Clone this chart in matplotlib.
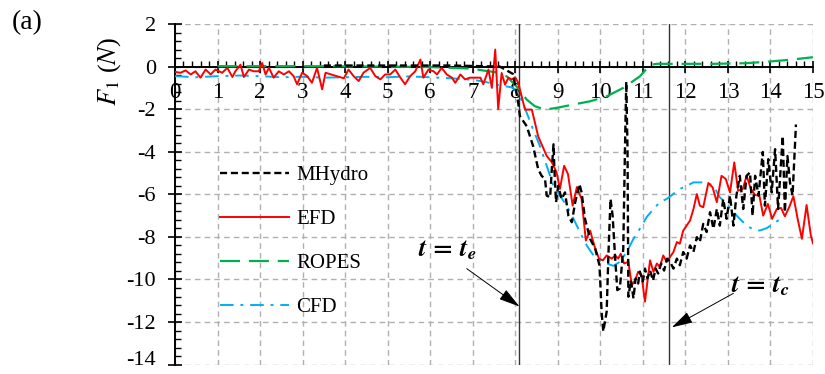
import matplotlib
matplotlib.use('Agg')
import matplotlib.pyplot as plt
from matplotlib.ticker import MultipleLocator, FuncFormatter

plt.rcParams['font.family'] = ['Liberation Serif', 'DejaVu Serif']
plt.rcParams['mathtext.fontset'] = 'stix'
plt.rcParams['axes.unicode_minus'] = False

# --- EFD (measured) ---
efd_t = [0.0, 0.13, 0.25, 0.37, 0.48, 0.6, 0.72, 0.84, 0.95, 1.11, 1.23, 1.35, 1.42, 1.54,
         1.62, 1.74, 1.85, 1.97, 2.05, 2.13, 2.21, 2.32, 2.44, 2.56, 2.68, 2.79, 2.87, 2.99,
         3.11, 3.22, 3.34, 3.46, 3.54, 3.97, 4.08, 4.2, 4.32, 4.43, 4.59, 4.71, 4.83, 4.94,
         5.06, 5.18, 5.3, 5.41, 5.53, 5.65, 5.77, 5.84, 5.96, 6.08, 6.16, 6.27, 6.39, 6.51,
         6.59, 6.71, 6.82, 6.94, 7.06, 7.18, 7.25, 7.37, 7.45, 7.53, 7.6, 7.68, 7.76, 7.84,
         7.92, 8.0, 8.07, 8.23, 8.39, 8.54, 8.74, 8.86, 8.97, 9.05, 9.15, 9.24, 9.35, 9.45,
         9.56, 9.66, 9.76, 9.88, 9.97, 10.06, 10.15, 10.27, 10.35, 10.42, 10.48, 10.56,
         10.66, 10.74, 10.82, 10.89, 10.97, 11.05, 11.17, 11.25, 11.33, 11.4, 11.48, 11.56,
         11.64, 11.72, 11.8, 11.87, 11.95, 12.03, 12.11, 12.19, 12.27, 12.34, 12.42, 12.54,
         12.64, 12.74, 12.85, 12.95, 13.05, 13.15, 13.24, 13.35, 13.44, 13.54, 13.64, 13.74,
         13.83, 13.94, 14.04, 14.15, 14.25, 14.34, 14.44, 14.54, 14.64, 14.74, 14.85, 14.95,
         15.0]
efd_f = [-0.25, -0.29, -0.18, -0.37, -0.22, -0.52, -0.14, -0.37, -0.14, -0.29, -0.06, -0.49,
         -0.22, 0.09, -0.49, -0.14, -0.22, -0.22, 0.17, -0.37, -0.06, -0.52, -0.22, -0.37,
         -0.22, -0.45, -0.83, -0.29, -0.45, -0.76, -0.06, -1.07, -0.29, -0.55, -0.14, -0.45,
         -0.68, -0.29, -0.06, -0.45, -0.6, -0.37, -0.37, -0.14, -0.52, -0.83, -0.45, -0.22,
         0.33, -0.52, -0.14, -0.22, -0.37, -0.06, -0.37, -0.52, -0.76, -0.37, -0.6, -0.52,
         -0.52, -0.52, -0.83, -0.14, -1.0, 0.8, -2.0, -0.3, -0.85, -0.52, -0.6, -0.5, -0.76,
         -2.02, -2.02, -3.28, -4.2, -4.49, -4.96, -5.75, -4.66, -5.05, -6.53, -5.66, -6.22,
         -8.17, -7.7, -8.55, -9.02, -9.1, -8.87, -9.02, -8.87, -9.02, -8.79, -9.25, -9.17,
         -10.27, -10.03, -9.64, -9.8, -11.04, -9.1, -9.64, -9.25, -9.41, -8.87, -9.17, -8.94,
         -8.71, -8.24, -8.32, -7.7, -7.47, -7.23, -6.69, -5.99, -6.53, -6.61, -5.47, -5.67,
         -6.37, -5.13, -5.28, -5.91, -4.5, -5.83, -5.75, -5.13, -5.75, -6.03, -6.06, -7.0,
         -6.45, -7.15, -6.69, -6.64, -7.03, -6.61, -6.09, -7.15, -8.09, -6.5, -7.93, -8.3]

# --- MHydro ---
mh_t = [3.5, 4.5, 5.5, 6.5, 7.64, 7.95, 8.07, 8.11, 8.27, 8.42, 8.54, 8.62, 8.7, 8.74, 8.82,
        8.86, 8.9, 8.92, 8.96, 9.01, 9.09, 9.17, 9.25, 9.33, 9.41, 9.51, 9.56, 9.64, 9.76,
        9.88, 9.98, 10.01, 10.03, 10.07, 10.15, 10.19, 10.24, 10.29, 10.35, 10.4, 10.46,
        10.54, 10.58, 10.61, 10.64, 10.66, 10.72, 10.78, 10.83, 10.89, 10.93, 11.0, 11.05,
        11.11, 11.17, 11.24, 11.3, 11.36, 11.43, 11.5, 11.57, 11.64, 11.72, 11.8, 11.87,
        11.95, 12.03, 12.11, 12.19, 12.27, 12.34, 12.42, 12.5, 12.58, 12.66, 12.74, 12.81,
        12.89, 12.97, 13.05, 13.13, 13.2, 13.28, 13.36, 13.44, 13.52, 13.58, 13.64, 13.72,
        13.82, 13.87, 13.95, 14.03, 14.11, 14.18, 14.25, 14.29, 14.34, 14.4, 14.46, 14.52,
        14.58, 14.6]
mh_f = [0.05, 0.05, 0.05, 0.05, 0.0, -0.35, -1.7, -2.33, -2.8, -3.73, -4.82, -5.13, -5.28,
        -6.06, -6.14, -4.82, -3.65, -4.82, -6.37, -5.6, -6.22, -5.91, -7.0, -7.31, -6.37,
        -5.52, -5.91, -7.15, -8.09, -8.55, -9.33, -10.57, -11.51, -12.44, -11.51, -8.87,
        -6.22, -7.0, -9.02, -10.5, -10.42, -8.55, -3.88, -0.71, -3.88, -10.81, -10.05,
        -10.89, -9.95, -10.19, -9.63, -10.09, -9.49, -9.95, -9.58, -10.05, -9.49, -9.72,
        -9.25, -9.58, -9.02, -9.17, -9.49, -9.02, -9.33, -8.71, -9.02, -8.4, -8.71, -8.01,
        -8.24, -7.39, -7.77, -6.84, -7.62, -6.69, -7.47, -6.22, -7.15, -6.06, -7.47, -6.06,
        -5.13, -6.69, -5.13, -4.97, -7.0, -5.13, -6.06, -4.01, -6.53, -4.35, -5.91, -3.88,
        -6.69, -4.5, -3.26, -6.84, -4.2, -5.44, -6.06, -3.57, -2.72]

# --- ROPES ---
ropes_t = [1.0, 2.0, 3.0, 4.0, 5.0, 6.0, 6.5, 7.0, 7.2, 7.56, 7.8, 8.03, 8.27, 8.46, 8.7,
           8.97, 9.37, 9.76, 10.15, 10.54, 10.93, 11.17, 11.33, 11.87, 12.66, 13.44, 13.99,
           14.46, 15.0]
ropes_f = [0.02, 0.02, 0.02, 0.01, 0.0, -0.02, -0.06, -0.1, -0.17, -0.27, -0.46, -0.93,
           -1.55, -1.86, -2.02, -1.94, -1.78, -1.63, -1.4, -1.0, -0.46, 0.08, 0.13, 0.13,
           0.13, 0.16, 0.24, 0.32, 0.44]

# --- CFD ---
cfd_t = [0.0, 0.5, 1.0, 1.5, 2.0, 2.5, 3.0, 3.5, 4.0, 4.5, 5.0, 5.5, 6.0, 6.5, 7.0, 7.3,
         7.56, 7.95, 8.11, 8.27, 8.42, 8.58, 8.74, 8.9, 9.05, 9.21, 9.37, 9.52, 9.68, 9.84,
         9.99, 10.15, 10.31, 10.46, 10.62, 10.78, 10.93, 11.09, 11.25, 11.4, 11.56, 11.72,
         11.87, 12.03, 12.19, 12.34, 12.5, 12.66, 12.81, 12.97, 13.13, 13.28, 13.44, 13.6,
         13.75, 13.91, 14.07, 14.23, 14.34]
cfd_f = [-0.45, -0.5, -0.45, -0.42, -0.45, -0.5, -0.48, -0.52, -0.5, -0.48, -0.5, -0.46,
         -0.5, -0.55, -0.62, -0.72, -0.85, -0.99, -1.4, -2.17, -2.95, -3.73, -4.66, -5.6,
         -6.06, -6.53, -7.15, -7.77, -8.4, -8.87, -9.1, -9.25, -9.36, -9.17, -8.71, -8.09,
         -7.62, -7.07, -6.69, -6.37, -6.22, -5.98, -5.75, -5.6, -5.44, -5.44, -5.44, -5.6,
         -6.14, -6.45, -6.84, -7.15, -7.47, -7.65, -7.7, -7.59, -7.39, -7.15, -7.0]

# characteristic instants
t_e = 8.1
t_c = 11.62

y_min, y_max = -14, 2

fig = plt.figure(figsize=(8.25, 3.74), dpi=100)
ax = fig.add_axes([0.2121, 0.025, 0.7733, 0.9108])

ax.plot(mh_t, mh_f, color='black', lw=1.7, dashes=(3, 1.6), label='MHydro', zorder=5)
ax.plot(efd_t, efd_f, color='#ff0000', lw=1.4, label='EFD', zorder=4)
ax.plot(ropes_t, ropes_f, color='#00b050', lw=1.6, dashes=(9, 4), label='ROPES', zorder=3)
ax.plot(cfd_t, cfd_f, color='#00b0f0', lw=1.4, dashes=(7, 3.5, 1.5, 3.5), label='CFD', zorder=3)

ax.axvline(t_e, color='#333333', lw=1.0, zorder=2)
ax.axvline(t_c, color='#333333', lw=1.0, zorder=2)

ax.set_xlim(0, 15)
ax.set_ylim(y_min, y_max)

# axes crossing at the origin
ax.spines['left'].set_position(('data', 0))
ax.spines['bottom'].set_position(('data', 0))
ax.spines['right'].set_visible(False)
ax.spines['top'].set_visible(False)
for s in ('left', 'bottom'):
    ax.spines[s].set_linewidth(1.4)
    ax.spines[s].set_zorder(2.5)

ax.xaxis.set_major_locator(MultipleLocator(1))
ax.xaxis.set_minor_locator(MultipleLocator(0.2))
ax.yaxis.set_major_locator(MultipleLocator(2))
ax.yaxis.set_minor_locator(MultipleLocator(0.4))

# the lowest y label is drawn separately, nudged up to stay inside the figure
ax.yaxis.set_major_formatter(FuncFormatter(lambda v, p: '' if v <= y_min else f'{v:g}'))

ax.tick_params(axis='x', which='major', direction='inout', length=8, width=1.2, pad=7,
               labelsize=16.5)
ax.tick_params(axis='x', which='minor', direction='in', length=4, width=1.0)
ax.tick_params(axis='y', which='major', direction='inout', length=9.5, width=1.2, pad=9,
               labelsize=16)
ax.tick_params(axis='y', which='minor', direction='in', length=4.5, width=1.0)

ax.annotate(f'{y_min:g}', xy=(0, y_min), xytext=(-13.75, 3), textcoords='offset points',
            ha='right', va='center', fontsize=16, annotation_clip=False)

ax.grid(True, which='major', color='#b0b0b0', lw=1.0, dashes=(4, 3))
ax.set_axisbelow(True)

fig.text(110 / 825, 1 - 71 / 374, r'$F_{\mathit{1}}$ ($N$)', rotation=90, ha='center',
         va='center', fontsize=19)
fig.text(27 / 825, 1 - 23 / 374, '(a)', ha='center', va='center', fontsize=20)

ax.legend(loc='upper left', bbox_to_anchor=(0.0705, 0.585), frameon=False, fontsize=15,
          handlelength=3.3, handletextpad=0.35, labelspacing=1.17, borderpad=0,
          borderaxespad=0)

arrow = dict(arrowstyle='-|>,head_length=0.65,head_width=0.18', color='black', lw=0.7,
             mutation_scale=20, shrinkA=0, shrinkB=0)
ax.annotate('', xy=(t_e, -11.27), xytext=(6.86, -9.49), arrowprops=arrow)
ax.annotate('', xy=(t_c + 0.06, -12.25), xytext=(13.13, -10.65), arrowprops=arrow)
ax.text(6.4, -8.9, r'$\mathbfit{t}\,\mathbf{=}\,\mathbfit{t}_{\mathbfit{e}}$', fontsize=19,
        ha='center', va='baseline')
ax.text(13.75, -10.6, r'$\mathbfit{t}\,\mathbf{=}\,\mathbfit{t}_{\mathbfit{c}}$', fontsize=19,
        ha='center', va='baseline')

fig.savefig('out.png', dpi=100)
